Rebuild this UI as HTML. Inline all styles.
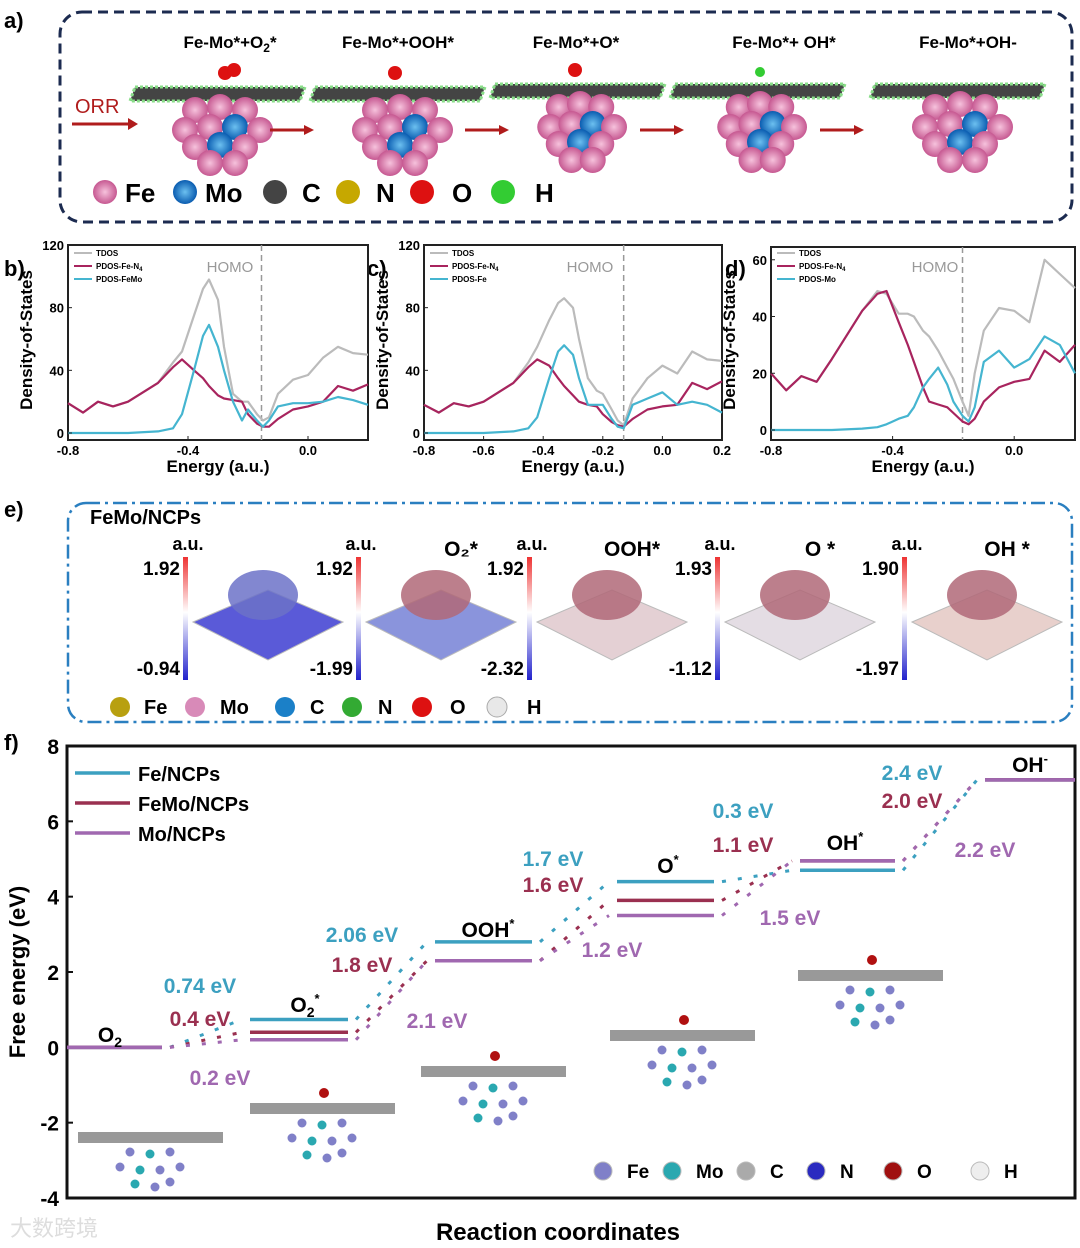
<!DOCTYPE html>
<html><head><meta charset="utf-8"><style>
body{margin:0;background:#fff}
svg{display:block;font-family:"Liberation Sans",Arial,sans-serif}
</style></head><body>
<svg id="fig" width="1080" height="1248" viewBox="0 0 1080 1248" xmlns="http://www.w3.org/2000/svg">
<defs>
<linearGradient id="cb" x1="0" y1="0" x2="0" y2="1"><stop offset="0" stop-color="#e33"/><stop offset="0.45" stop-color="#fff"/><stop offset="1" stop-color="#22c"/></linearGradient>
<radialGradient id="pk"><stop offset="0" stop-color="#f6c2dc"/><stop offset="1" stop-color="#c65891"/></radialGradient>
<radialGradient id="bl"><stop offset="0" stop-color="#6cc0f0"/><stop offset="1" stop-color="#0a5cb0"/></radialGradient>
</defs>
<g>
<text x="4" y="28" font-size="22" font-weight="bold">a)</text>
<rect x="60" y="12" width="1012" height="210" rx="22" fill="none" stroke="#1c2b50" stroke-width="3" stroke-dasharray="10,6"/>
<g font-size="17" font-weight="bold" text-anchor="middle">
<text x="230" y="48">Fe-Mo*+O<tspan font-size="12" dy="4">2</tspan><tspan dy="-4">*</tspan></text>
<text x="398" y="48">Fe-Mo*+OOH*</text>
<text x="576" y="48">Fe-Mo*+O*</text>
<text x="784" y="48">Fe-Mo*+ OH*</text>
<text x="968" y="48">Fe-Mo*+OH-</text>
</g>
<text x="75" y="113" font-size="20" fill="#b01c1c">ORR</text>
<g id="astruct"></g>
<g font-size="26" font-weight="bold">
<circle cx="105" cy="192" r="12" fill="url(#pk)"/><text x="125" y="202">Fe</text>
<circle cx="185" cy="192" r="12" fill="url(#bl)"/><text x="205" y="202">Mo</text>
<circle cx="275" cy="192" r="12" fill="#444"/><text x="302" y="202">C</text>
<circle cx="348" cy="192" r="12" fill="#c6a800"/><text x="376" y="202">N</text>
<circle cx="422" cy="192" r="12" fill="#d11"/><text x="452" y="202">O</text>
<circle cx="503" cy="192" r="12" fill="#3c3"/><text x="535" y="202">H</text>
</g>
</g>
<g font-size="22" font-weight="bold">
<text x="4" y="276">b)</text>
<text x="367" y="276">c)</text>
<text x="725" y="276">d)</text>
</g>
<g id="dos"></g>
<g>
<text x="4" y="517" font-size="22" font-weight="bold">e)</text>
<rect x="68" y="503" width="1004" height="219" rx="18" fill="none" stroke="#2a7fc0" stroke-width="2.5" stroke-dasharray="14,5,3,5"/>
<text x="90" y="524" font-size="20" font-weight="bold">FeMo/NCPs</text>
<g id="esp"></g>
<g font-size="20" font-weight="bold">
<circle cx="120" cy="707" r="10" fill="#b8a010"/><text x="144" y="714">Fe</text>
<circle cx="195" cy="707" r="10" fill="#d88ab8"/><text x="220" y="714">Mo</text>
<circle cx="285" cy="707" r="10" fill="#1b80c8"/><text x="310" y="714">C</text>
<circle cx="352" cy="707" r="10" fill="#3a3"/><text x="378" y="714">N</text>
<circle cx="422" cy="707" r="10" fill="#d11"/><text x="450" y="714">O</text>
<circle cx="497" cy="707" r="10" fill="#e8e8e8" stroke="#aaa"/><text x="527" y="714">H</text>
</g>
</g>
<g id="fpanel">
<text x="4" y="750" font-size="22" font-weight="bold">f)</text>
</g>
<text x="10" y="1236" font-size="22" fill="#ddd">大数跨境</text>
</svg>
<script>
const NS="http://www.w3.org/2000/svg";
function mk(p,t,a){const e=document.createElementNS(NS,t);for(const k in a)e.setAttribute(k,a[k]);p.appendChild(e);return e;}
function tx(p,x,y,s,a){const e=mk(p,'text',Object.assign({x:x,y:y},a||{}));e.textContent=s;return e;}

// ---- DOS data ----
const dosX=[-0.8,-0.75,-0.7,-0.65,-0.6,-0.5,-0.45,-0.42,-0.38,-0.35,-0.33,-0.3,-0.28,-0.25,-0.22,-0.2,-0.17,-0.15,-0.13,-0.1,-0.05,0,0.05,0.1,0.15,0.2];
const bTDOS=[19,13,20,17,20,32,45,52,75,92,98,85,55,25,20,20,12,8,10,25,34,37,48,55,51,50];
const bFeN4=[19,13,20,17,20,32,42,47,40,35,30,24,22,21,20,12,6,4,4,9,15,17,20,30,27,31];
const bFeMo=[0,0,0,0,0,1,3,12,40,62,69,55,40,20,8,15,8,4,8,17,19,19,20,23,21,18];
const cTDOS=[18,13,19,17,20,32,45,55,72,83,86,80,60,35,27,25,15,8,5,22,35,43,38,52,47,46];
const cFeN4=[18,13,19,17,20,32,42,47,43,35,30,24,20,18,17,12,7,5,4,9,15,17,18,32,28,33];
const cFe=[0,0,0,0,0,1,3,10,35,52,56,50,35,18,18,18,9,4,3,18,22,26,18,20,18,13];
const dTDOS=[20,14,19,17,25,42,49,48,41,41,40,35,33,28,22,18,10,5,20,35,43,42,38,60,55,50];
const dFeN4=[20,14,19,17,25,42,48,49,38,30,24,15,10,9,8,6,3,2,4,10,15,17,18,28,24,30];
const dMo=[0,0,0,0,0,0.5,1,2,4,5,8,15,18,22,16,10,5,3,8,24,28,22,25,33,30,20];
const dosTitles=[['TDOS','PDOS-Fe-N','PDOS-FeMo'],['TDOS','PDOS-Fe-N','PDOS-Fe'],['TDOS','PDOS-Fe-N','PDOS-Mo']];
const dosPanels=[
 {x0:68,x1:368,ymax:120,yticks:[0,40,80,120],xticks:[-0.8,-0.4,0.0],homo:-0.155,series:[bTDOS,bFeN4,bFeMo],y0:433,yt:245,hx:230},
 {x0:424,x1:722,ymax:120,yticks:[0,40,80,120],xticks:[-0.8,-0.6,-0.4,-0.2,0.0,0.2],homo:-0.13,series:[cTDOS,cFeN4,cFe],y0:433,yt:245,hx:590},
 {x0:771,x1:1075,ymax:64.5,yticks:[0,20,40,60],xticks:[-0.8,-0.4,0.0],homo:-0.17,series:[dTDOS,dFeN4,dMo],y0:430,yt:247,hx:935}];
const dosColors=['#bbb','#a8245e','#45b5d0'];
const dg=document.getElementById('dos');
dosPanels.forEach((P,i)=>{
 const g=mk(dg,'g',{});
 
 
 const sx=v=>P.x0+(v+0.8)/1.0*(P.x1-P.x0);
 const sy=v=>P.y0-v/P.ymax*(P.y0-P.yt);
 const ax=mk(g,'rect',{x:P.x0,y:P.yt,width:P.x1-P.x0,height:440-P.yt,fill:'none',stroke:'#222','stroke-width':2});
 
 
 const hl=mk(g,'line',{x1:sx(P.homo),x2:sx(P.homo),y1:P.yt,y2:440,stroke:'#999','stroke-dasharray':'6,4','stroke-width':1.5});
 
 
 const ht=tx(g,P.hx,272,'HOMO',{'font-size':15,fill:'#999','text-anchor':'middle'});
 
 
 P.series.forEach((s,k)=>{
  const pts=dosX.map((x,j)=>sx(x).toFixed(1)+','+sy(s[j]).toFixed(1)).join(' ');
  const pl=mk(g,'polyline',{points:pts,fill:'none',stroke:dosColors[k],'stroke-width':2.2,'stroke-linejoin':'round'});
  
  
 });
 P.yticks.forEach(t=>{const y=sy(t);mk(g,'line',{x1:P.x0,x2:P.x0+4,y1:y,y2:y,stroke:'#222'});
  const l=tx(g,P.x0-4,y+5,String(t),{'font-size':13,'font-weight':'bold','text-anchor':'end'});
  
  });
 P.xticks.forEach(t=>{const x=sx(t);mk(g,'line',{x1:x,x2:x,y1:440,y2:436,stroke:'#222'});
  const l=tx(g,x,455,t.toFixed(1),{'font-size':13,'font-weight':'bold','text-anchor':'middle'});
  
  });
 const xt=tx(g,(P.x0+P.x1)/2,472,'Energy (a.u.)',{'font-size':17,'font-weight':'bold','text-anchor':'middle'});
 
 
 const yt=tx(g,0,0,'Density-of-States',{'font-size':17,'font-weight':'bold','text-anchor':'middle',transform:`translate(${P.x0-36},340) rotate(-90)`});
 
 
 dosTitles[i].forEach((n,k)=>{const y=256+k*13;mk(g,'line',{x1:P.x0+6,x2:P.x0+24,y1:y-3,y2:y-3,stroke:dosColors[k],'stroke-width':2});
  const l=tx(g,P.x0+28,y,n,{'font-size':8,'font-weight':'bold'});
  if(k==1){const s=mk(l,'tspan',{'font-size':6,dy:2});s.textContent='4';}
  
  });
});

// ---- panel a structures ----
const ag=document.getElementById('astruct');
[[220,95],[400,95],[580,92],[760,92],[960,92]].forEach((c,i)=>{
 const g=mk(ag,'g',{});
 
 
 mk(g,'polygon',{points:`${c[0]-85},${c[1]-8} ${c[0]+85},${c[1]-8} ${c[0]+80},${c[1]+6} ${c[0]-90},${c[1]+6}`,fill:'#444',stroke:'#8d8',"stroke-width":3,"stroke-dasharray":"3,2"});
 const off=[[-25,15],[0,12],[25,15],[-35,35],[-10,32],[15,32],[40,35],[-25,52],[0,50],[25,52],[-10,68],[15,68]];
 off.forEach((o,j)=>mk(g,'circle',{cx:c[0]+o[0]*(i==3||i==2?0.85:1),cy:c[1]+o[1],r:13,fill:(j==5||j==8)?'url(#bl)':'url(#pk)'}));
 if(i<3)mk(g,'circle',{cx:c[0]+5-(i==0?0:10),cy:c[1]-22,r:7,fill:'#d11'});
 if(i==0)mk(g,'circle',{cx:c[0]+14,cy:c[1]-25,r:7,fill:'#d11'});
 if(i==3)mk(g,'circle',{cx:c[0],cy:c[1]-20,r:5,fill:'#3c3'});
});
[[270,130],[465,130],[640,130],[820,130]].forEach(a=>{const l=mk(ag,'line',{x1:a[0],x2:a[0]+38,y1:a[1],y2:a[1],stroke:'#b01c1c','stroke-width':3});
 
 mk(ag,'polygon',{points:`${a[0]+44},${a[1]} ${a[0]+34},${a[1]-5} ${a[0]+34},${a[1]+5}`,fill:'#b01c1c'});});
mk(ag,'line',{x1:72,x2:130,y1:124,y2:124,stroke:'#b01c1c','stroke-width':3});
mk(ag,'polygon',{points:'138,124 128,118 128,130',fill:'#b01c1c'});

// ---- panel e ----
const eg=document.getElementById('esp');
const espMax=['1.92','1.92','1.92','1.93','1.90'];
const espMin=['-0.94','-1.99','-2.32','-1.12','-1.97'];
const espTitles=['','O₂*','OOH*','O *','OH *'];
const espBar=[183,356,527,715,902];
const espFill=['#5a5ad8','#8a94dc','#e4d0d4','#e4dde4','#e8d0cc'];
espBar.forEach((bx,i)=>{
 const g=mk(eg,'g',{});
 
 
 mk(g,'rect',{x:bx,y:557,width:5,height:123,fill:'url(#cb)'});
 tx(g,bx+5,550,'a.u.',{'font-size':18,'font-weight':'bold','text-anchor':'middle'});
 tx(g,bx-3,575,espMax[i],{'font-size':19,'font-weight':'bold','text-anchor':'end'});
 tx(g,bx-3,675,espMin[i],{'font-size':19,'font-weight':'bold','text-anchor':'end'});
 const cx=bx+85;
 if(espTitles[i])tx(g,cx+20,556,espTitles[i],{'font-size':21,'font-weight':'bold','text-anchor':'middle'});
 mk(g,'polygon',{points:`${cx-75},${622} ${cx},${590} ${cx+75},${622} ${cx},${660}`,fill:espFill[i],stroke:'#bbb'});
 mk(g,'ellipse',{cx:cx-5,cy:595,rx:35,ry:25,fill:i==0?'#6c72c8':'#b06878',opacity:0.85});
});

// ---- panel f ----
const fStates=['O2','O2*','OOH*','O*','OH*','OH-'];
const fFe=[0,0.74,2.8,4.4,4.7,7.1];
const fFeMo=[0,0.4,2.3,3.9,4.95,7.1];
const fMo=[0,0.2,2.3,3.5,4.95,7.1];
const fYTicks=[-4,-2,0,2,4,6,8];
const fStepFe=['0.74 eV','2.06 eV','1.7 eV','0.3 eV','2.4 eV'];
const fStepFeMo=['0.4 eV','1.8 eV','1.6 eV','1.1 eV','2.0 eV'];
const fStepMo=['0.2 eV','2.1 eV','1.2 eV','1.5 eV','2.2 eV'];
const fg=document.getElementById('fpanel');
const FX0=67,FX1=1075,FY0=746,FY1=1198;
const fy=v=>FY0+(8-v)/12*(FY1-FY0);
const fLevelX=[[67,162],[250,348],[435,532],[617,714],[800,895],[985,1075]];
const fColors=['#3ca0c0','#9a3050','#a068b0'];
const fSeries=[fFe,fFeMo,fMo];
const fr=mk(fg,'rect',{x:FX0,y:FY0,width:FX1-FX0,height:FY1-FY0,fill:'none',stroke:'#111','stroke-width':3});


fYTicks.forEach(t=>{const y=fy(t);mk(fg,'line',{x1:FX0,x2:FX0+6,y1:y,y2:y,stroke:'#111','stroke-width':2});
 const l=tx(fg,FX0-8,y+8,String(t),{'font-size':21,'font-weight':'bold','text-anchor':'end'});
 
 });
const yat=tx(fg,0,0,'Free energy (eV)',{'font-size':22,'font-weight':'bold','text-anchor':'middle',transform:'translate(25,972) rotate(-90)'});


const xat=tx(fg,558,1240,'Reaction coordinates',{'font-size':24,'font-weight':'bold','text-anchor':'middle'});


[0,1,2].forEach(k=>{const s=fSeries[k];
 s.forEach((v,j)=>{const L=fLevelX[j];
  const ln=mk(fg,'line',{x1:L[0],x2:L[1],y1:fy(v),y2:fy(v),stroke:fColors[k],'stroke-width':3.5});
  
  
  if(j<s.length-1){const c=mk(fg,'line',{x1:L[1]+8,x2:fLevelX[j+1][0]-8,y1:fy(v),y2:fy(s[j+1]),stroke:fColors[k],'stroke-width':3,'stroke-dasharray':'4,12'});
   
   }
 });});
const fStateLabelX=[110,305,488,668,845,1030];
const fStateLabelY=[1042,1012,937,873,850,772];
[['O','2',''],['O','2','*'],['OOH','','*'],['O','','*'],['OH','','*'],['OH','','-']].forEach((s,j)=>{
 const t=tx(fg,fStateLabelX[j],fStateLabelY[j],s[0],{'font-size':21,'font-weight':'bold','text-anchor':'middle'});
 if(s[1]){const a=mk(t,'tspan',{'font-size':14,dy:5});a.textContent=s[1];}
 if(s[2]){const a=mk(t,'tspan',{'font-size':13,dy:s[1]?-14:-9});a.textContent=s[2];}
 
 });
const fStepPos=[[200,993,1026,1085],[362,942,972,1028],[553,866,892,957],[743,818,852,925],[912,780,808,857]];
const fMoX=[220,437,612,790,985];
fStepPos.forEach((p,j)=>{
 [[fStepFe,p[1],p[0],0],[fStepFeMo,p[2],p[0],1],[fStepMo,p[3],fMoX[j],2]].forEach(q=>{
  const t=tx(fg,q[2],q[1],q[0][j],{'font-size':21,'font-weight':'bold',fill:fColors[q[3]],'text-anchor':'middle'});
  
  });});
['Fe/NCPs','FeMo/NCPs','Mo/NCPs'].forEach((n,k)=>{const y=773+k*30;
 mk(fg,'line',{x1:75,x2:130,y1:y,y2:y,stroke:fColors[k],'stroke-width':3.5});
 const t=tx(fg,138,y+8,n,{'font-size':20,'font-weight':'bold'});
 
 });
[[150,1132,0],[322,1103,1],[493,1066,1],[682,1030,1],[870,970,1]].forEach(c=>{
 const g=mk(fg,'g',{});
 
 
 mk(g,'rect',{x:c[0]-72,y:c[1],width:145,height:11,fill:'#999'});
 [[-20,20],[0,22],[20,20],[-30,35],[-10,38],[10,38],[30,35],[-15,52],[5,55],[20,50]].forEach((o,j)=>mk(g,'circle',{cx:c[0]+o[0],cy:c[1]+o[1],r:4.5,fill:j%3==1?'#2aa8b0':'#8080c8'}));
 if(c[2])mk(g,'circle',{cx:c[0]+2,cy:c[1]-10,r:5,fill:'#b01010'});
});
const lg=mk(fg,'g',{'font-size':19,'font-weight':'bold'});


[['Fe','#8080c8',603],['Mo','#2aa8b0',672],['C','#aaa',746],['N','#2a2ac0',816],['O','#a01010',893],['H','#eee',980]].forEach(a=>{
 mk(lg,'circle',{cx:a[2],cy:1171,r:9,fill:a[1],stroke:'#bbb'});tx(lg,a[2]+24,1178,a[0]);});
</script>
</body></html>
